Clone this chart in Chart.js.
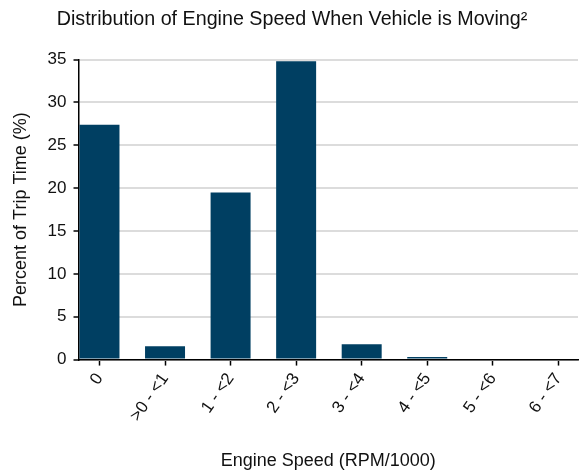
<!DOCTYPE html>
<html>
<head>
<meta charset="utf-8">
<script src="https://cdn.jsdelivr.net/npm/chart.js@4"></script>
<style>
  body { margin: 0; background: #fff; }
  #wrap { width: 588px; height: 472px; }
</style>
</head>
<body>
<div id="wrap"><canvas id="myChart" width="588" height="472"></canvas></div>
<script>
var categories = ["0", ">0 - <1", "1 - <2", "2 - <3", "3 - <4", "4 - <5", "5 - <6", "6 - <7"];
var percents = [27.4, 1.55, 19.5, 34.8, 1.8, 0.3, 0, 0];
var yTicks = [0, 5, 10, 15, 20, 25, 30, 35];

var font = "'Liberation Sans', Arial, sans-serif";
var points = [];
categories.forEach((cat, i)=>{
  points.push({x: i, y: percents[i]});
});

var ctx = document.getElementById('myChart').getContext('2d');
var chart = new Chart(ctx, {
    type: 'bar',
    data: {
        datasets: [{
            data: points,
            backgroundColor: '#003f62',
            borderWidth: 0,
            categoryPercentage: 1,
            barPercentage: 0.61
        }]
    },
    options: {
        responsive: false,
        animation: false,
        layout: { padding: { top: 2, right: 10, left: 6, bottom: 0 } },
        plugins: {
            legend: { display: false },
            tooltip: { enabled: false },
            title: {
                display: true,
                text: 'Distribution of Engine Speed When Vehicle is Moving\u00b2',
                color: '#111',
                font: { family: font, size: 19.7, weight: 'normal' },
                padding: { top: 6, bottom: 28 }
            }
        },
        scales: {
            x: {
                type: 'linear',
                min: -0.32,
                max: 7.3,
                offset: false,
                border: { color: '#000', width: 1.5 },
                grid: { offset: false, drawOnChartArea: false, color: '#000', tickColor: '#000', tickWidth: 1.5, tickLength: 6 },
                afterBuildTicks: function(axis){
                    axis.ticks = categories.map((c, i)=>({value: i}));
                },
                ticks: {
                    minRotation: 55,
                    maxRotation: 55,
                    autoSkip: false,
                    padding: 4,
                    color: '#111',
                    font: { family: font, size: 17 },
                    callback: function(v){ return categories[v]; }
                },
                title: {
                    display: true,
                    text: 'Engine Speed (RPM/1000)',
                    color: '#111',
                    font: { family: font, size: 18 },
                    padding: { top: 21, bottom: 0 }
                }
            },
            y: {
                min: 0,
                max: 35,
                border: { color: '#000', width: 1.5 },
                grid: { color: '#dcdcdc', lineWidth: 2, tickColor: '#000', tickWidth: 1.5, tickLength: 5 },
                afterBuildTicks: function(axis){
                    axis.ticks = yTicks.map(v=>({value: v}));
                },
                ticks: {
                    color: '#111',
                    padding: 7,
                    font: { family: font, size: 17 }
                },
                title: {
                    display: true,
                    text: 'Percent of Trip Time (%)',
                    color: '#111',
                    font: { family: font, size: 18 },
                    padding: { bottom: 9 }
                }
            }
        }
    }
});
</script>
</body>
</html>
